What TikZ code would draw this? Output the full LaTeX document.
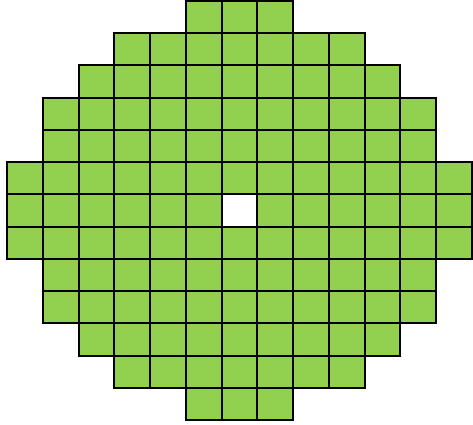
\documentclass[tikz,border=0pt]{standalone}
\usepackage{xcolor}
\usepackage{tikz}
\definecolor{cellgreen}{HTML}{92D050}

\begin{document}
\begin{tikzpicture}[
  x=1pt, y=-1pt,
  cell/.style={draw=black, fill=cellgreen, line width=2pt},
  hole/.style={fill=white}
]
  \useasboundingbox (0,0) rectangle (473,424);
  \def\cw{35.77}
  \def\ch{32.23}
  \def\ox{7}
  \def\oy{1}

  % rows: row / first column / last column
  \foreach \r/\a/\b in {0/5/7, 1/3/9, 2/2/10, 3/1/11, 4/1/11, 5/0/12,
                        6/0/12, 7/0/12, 8/1/11, 9/1/11, 10/2/10, 11/3/9, 12/5/7} {
    \foreach \c in {\a,...,\b} {
      \draw[cell] ({\ox+\c*\cw},{\oy+\r*\ch}) rectangle ++(\cw,\ch);
    }
  }

  % empty centre cell
  \fill[hole] ({\ox+6*\cw+1},{\oy+6*\ch+1}) rectangle ++({\cw-2},{\ch-2});

\end{tikzpicture}
\end{document}
